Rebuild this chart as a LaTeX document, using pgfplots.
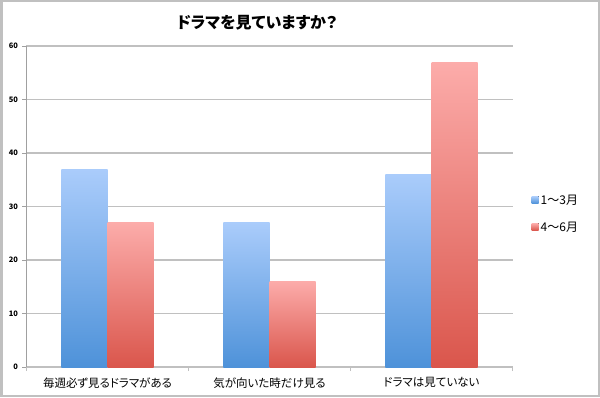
\documentclass[border=0pt]{standalone}
\usepackage{pgfplots}
\pgfplotsset{compat=1.18}
\usepackage{fontspec}
\setmainfont[RawFeature={+palt}]{Noto Sans CJK JP}
\definecolor{btop}{HTML}{AACCFB}
\definecolor{bbot}{HTML}{4E92D9}
\definecolor{rtop}{HTML}{FCACAA}
\definecolor{rbot}{HTML}{DA564C}
\definecolor{gridc}{HTML}{C0C0C0}
\definecolor{axc}{HTML}{A0A0A0}
\begin{document}
\begin{tikzpicture}[x=1pt,y=1pt]
\useasboundingbox (0,0) rectangle (600,397);
\draw[line width=2.5pt, color=gridc] (1.25,1.25) rectangle (598.75,395.75);
\node[font=\fontsize{16}{16}\selectfont\bfseries] at (257,374) {ドラマを見ていますか？};
\begin{axis}[
  at={(26.5pt,30pt)}, anchor=south west,
  scale only axis, width=486pt, height=321pt,
  xmin=-0.5, xmax=2.5, ymin=0, ymax=60,
  ytick={0,10,...,60},
  xtick={0,1,2},
  xticklabels={毎週必ず見るドラマがある,気が向いた時だけ見る,ドラマは見ていない},
  minor xtick={-0.5,0.5,1.5,2.5},
  axis x line*=bottom, axis y line*=left,
  axis line style={axc, line width=0.8pt, -},
  x axis line style={gridc, line width=1.2pt},
  ymajorgrids, grid style={gridc, line width=1.2pt},
  tick align=outside,
  major tick length=4pt, minor tick length=4pt,
  x tick style={draw=none},
  minor x tick style={draw=gridc, line width=0.8pt},
  y tick style={axc, line width=0.8pt},
  /pgf/number format/assume math mode=true,
  yticklabel style={font=\fontsize{7.5}{8}\selectfont\bfseries, xshift=-1pt},
  xticklabel style={font=\fontsize{11.5}{12}\selectfont, yshift=-3pt},
  legend style={at={(1.033,0.477)}, anchor=west, draw=none, fill=none,
    font=\fontsize{12}{13}\selectfont, row sep=12pt},
  legend image code/.code={\fill[#1] (0pt,-3pt) rectangle (7pt,4pt);},
  bs/.style={ybar, bar width=0.285, bar shift=-0.1425, draw=none, top color=btop, bottom color=bbot},
  rs/.style={ybar, bar width=0.285, bar shift=0.1425, draw=none, top color=rtop, bottom color=rbot},
]
\addplot[bs] coordinates {(0,37)};
\addlegendentry{1〜3月}
\addplot[rs] coordinates {(0,27)};
\addlegendentry{4〜6月}
\addplot[bs, forget plot] coordinates {(1,27)};
\addplot[bs, forget plot] coordinates {(2,36)};
\addplot[rs, forget plot] coordinates {(1,16)};
\addplot[rs, forget plot] coordinates {(2,57)};
\end{axis}
\end{tikzpicture}
\end{document}
